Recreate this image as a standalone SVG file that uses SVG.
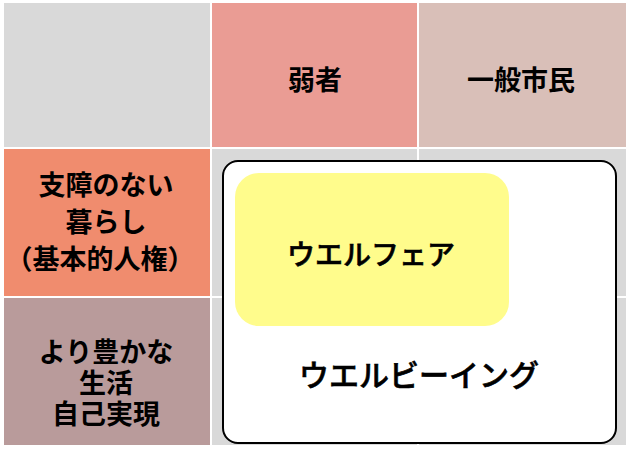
<svg xmlns="http://www.w3.org/2000/svg" width="631" height="452" viewBox="0 0 631 452">
<style>
.lbl{font-family:"Noto Sans CJK JP","Noto Sans",sans-serif;font-weight:bold;font-size:27px;fill:#000;text-anchor:middle;dominant-baseline:central}
.kana{font-family:"Noto Sans CJK JP","Noto Sans",sans-serif;font-weight:500;fill:#000;stroke:#000;stroke-width:0.6px;text-anchor:middle;dominant-baseline:central}
</style>
<rect x="0" y="0" width="631" height="452" fill="#ffffff"/>
<g id="grid">
<rect x="4" y="3" width="206" height="144" fill="#d9d9d9"/>
<rect x="212" y="3" width="205" height="144" fill="#ea9c94"/>
<rect x="419" y="3" width="207" height="144" fill="#d9bfb8"/>
<rect x="4" y="149" width="206" height="147" fill="#f08c6e"/>
<rect x="212" y="149" width="205" height="147" fill="#d9d9d9"/>
<rect x="419" y="149" width="207" height="147" fill="#d9d9d9"/>
<rect x="4" y="298" width="206" height="147" fill="#b99b9b"/>
<rect x="212" y="298" width="205" height="147" fill="#d9d9d9"/>
<rect x="419" y="298" width="207" height="147" fill="#d9d9d9"/>
</g>
<g id="header-weak"><text class="lbl" x="315" y="78">弱者</text></g>
<g id="header-citizen"><text class="lbl" x="521" y="78">一般市民</text></g>
<g id="row-basic">
<text class="lbl" x="106" y="183">支障のない</text>
<text class="lbl" x="106" y="220">暮らし</text>
<text class="lbl" x="100" y="257">（基本的人権）</text>
</g>
<g id="row-rich">
<text class="lbl" x="106" y="350">より豊かな</text>
<text class="lbl" x="106" y="381">生活</text>
<text class="lbl" x="106" y="412">自己実現</text>
</g>
<g id="wellbeing">
<rect x="223" y="161" width="393" height="282" rx="15" ry="15" fill="#ffffff" stroke="#000000" stroke-width="2"/>
<text class="kana" x="419" y="373" font-size="30">ウエルビーイング</text>
</g>
<g id="welfare">
<rect x="235" y="173" width="274" height="153" rx="24" ry="24" fill="#fffc8c"/>
<text class="kana" x="371" y="253" font-size="28">ウエルフェア</text>
</g>
<g id="connectors"></g>
</svg>
